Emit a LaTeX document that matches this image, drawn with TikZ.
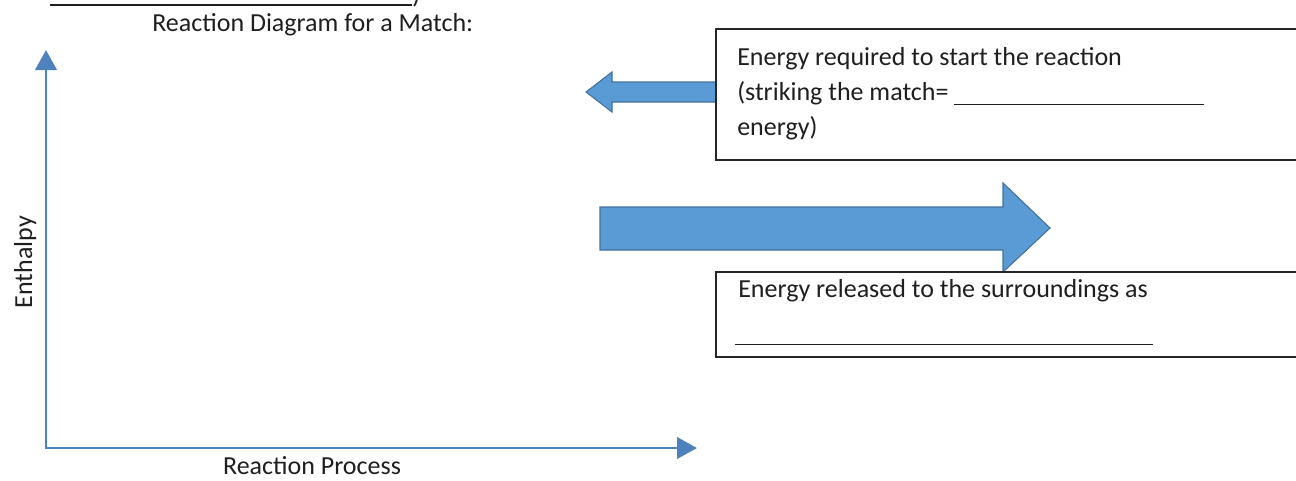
\documentclass[tikz,border=0pt]{standalone}
\usepackage{fontspec}
\setmainfont{Carlito}
\usetikzlibrary{arrows.meta}
\definecolor{axisblue}{HTML}{4F81BD}
\definecolor{fillblue}{HTML}{5B9BD5}
\definecolor{edgeblue}{HTML}{41719C}
\definecolor{txtgray}{HTML}{1F1F1F}
\tikzset{
  lbl/.style={inner sep=0pt, anchor=base west, text=txtgray, font=\fontsize{19.5}{23}\selectfont},
  axis/.style={line width=2.2pt, draw=axisblue, line join=miter,
    {Triangle[length=15pt,width=16pt]}-{Triangle[length=15pt,width=16pt]}},
  blockarrow/.style={fill=fillblue, draw=edgeblue, line width=0.8pt},
  textbox/.style={draw=black!85, line width=1.1pt}
}
\begin{document}
\begin{tikzpicture}[x=0.75pt, y=-0.75pt]
  \useasboundingbox (0,0) rectangle (1296,480);
  \clip (0,0) rectangle (1296,480);
  % blank line with its closing paren, cut at the top
  \draw[line width=0.9pt, txtgray] (50,5) -- (412,5);
  \node[lbl] (paren) at (412,3) {)};
  \node[lbl] (title) at (152,31) {Reaction Diagram for a Match:};
  % axes
  \coordinate (origin) at (46,448);
  \coordinate (ytop) at (46,50);
  \coordinate (xend) at (697,448);
  \draw[axis] (ytop) -- (origin) -- (xend);
  \node[lbl, anchor=base] (xlabel) at (312,474) {Reaction Process};
  \node[lbl, anchor=base, rotate=90] (ylabel) at (32,262) {Enthalpy};
  % block arrows
  \filldraw[blockarrow] (586,92) -- (612,72) -- (612,82) -- (717,82) -- (717,102)
    -- (612,102) -- (612,112) -- cycle;
  \filldraw[blockarrow] (600,207) -- (1003,207) -- (1003,183) -- (1050,228)
    -- (1003,272) -- (1003,250) -- (600,250) -- cycle;
  % text boxes
  \draw[textbox, fill=white] (716,29) rectangle (1310,160);
  \node[lbl] (req1) at (737,65) {Energy required to start the reaction};
  \node[lbl] (req2) at (737,100) {(striking the match= \rule[-3.75pt]{187pt}{0.8pt}};
  \node[lbl] (req3) at (737,135) {energy)};
  \draw[textbox, fill=white] (716,272) rectangle (1310,357);
  \node[lbl] (rel1) at (738,297) {Energy released to the surroundings as};
  \node[lbl] (rel2) at (735,345) {\rule{313pt}{0.8pt}};
\end{tikzpicture}
\end{document}
